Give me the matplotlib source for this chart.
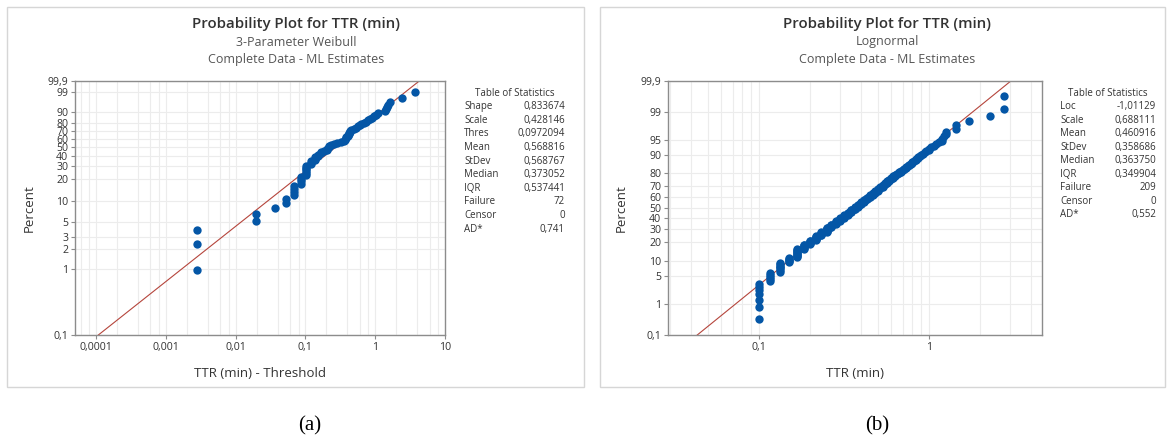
import numpy as np
import matplotlib
matplotlib.use("Agg")
import matplotlib.pyplot as plt
from matplotlib.patches import Rectangle
from matplotlib.ticker import FixedLocator, FixedFormatter, NullLocator
from statistics import NormalDist

plt.rcParams["font.family"] = ["Open Sans", "DejaVu Sans"]

# ---- data: TTR in seconds (plotted in minutes) ----
# (a) 3-parameter Weibull, 72 failures
ttr_a_sec = [6, 6, 6, 7, 7, 8, 9, 9, 10, 10, 10, 10, 11, 11, 11, 11,
             12, 12, 12, 12, 12, 12, 13, 13, 13, 14, 14, 14, 15, 15, 16, 16,
             17, 18, 18, 19, 19, 20, 21, 23, 25, 27, 28, 29, 29, 30, 30, 31,
             31, 32, 32, 33, 36, 38, 40, 42, 44, 47, 50, 53, 56, 60, 64, 68,
             72, 88, 92, 94, 97, 104, 149, 229]
weib_shape, weib_scale, weib_thres = 0.833674, 0.428146, 0.0972094

# (b) Lognormal, 209 failures: distinct seconds and how many times each occurs
ttr_b_sec = [6, 7, 8, 9, 10, 11, 12, 13, 14, 15, 16, 17, 18, 19, 20, 21, 22,
             23, 24, 25, 26, 27, 28, 29, 30, 31, 32, 33, 34, 35, 36, 37, 38,
             39, 40, 41, 42, 43, 44, 45, 46, 47, 48, 49, 50, 52, 53, 54, 55,
             57, 58, 60, 62, 64, 66, 69, 72, 74, 76, 86, 103, 137, 166]
ttr_b_cnt = [7, 5, 7, 5, 9, 6, 6, 7, 6, 8, 6, 6, 6, 6, 5, 6, 5,
             5, 5, 5, 4, 5, 4, 4, 4, 3, 4, 3, 3, 3, 2, 3, 2,
             2, 2, 2, 1, 2, 2, 1, 2, 1, 2, 1, 2, 2, 1, 1, 1,
             1, 1, 2, 1, 1, 1, 1, 2, 1, 2, 2, 1, 1, 2]
logn_loc, logn_scale = -1.01129, 0.688111

stats_a_names = ["Shape", "Scale", "Thres", "Mean", "StDev", "Median", "IQR",
                 "Failure", "Censor", "AD*"]
stats_a_vals = ["0,833674", "0,428146", "0,0972094", "0,568816", "0,568767",
                "0,373052", "0,537441", "72", "0", "0,741"]
stats_b_names = ["Loc", "Scale", "Mean", "StDev", "Median", "IQR",
                 "Failure", "Censor", "AD*"]
stats_b_vals = ["-1,01129", "0,688111", "0,460916", "0,358686", "0,363750",
                "0,349904", "209", "0", "0,552"]

yticks_a = [0.1, 1, 2, 3, 5, 10, 20, 30, 40, 50, 60, 70, 80, 90, 99, 99.9]
yticks_b = [0.1, 1, 5, 10, 20, 30, 40, 50, 60, 70, 80, 90, 95, 99, 99.9]
xticks_a = [0.0001, 0.001, 0.01, 0.1, 1, 10]
xticks_b = [0.1, 1]

BLUE = "#0456a6"
RED = "#b5453c"
GRID = "#ececec"
TXT = "#333333"
W, H = 1169, 446


def fx(px):
    return px / W


def fy(py):
    return 1 - py / H


def comma(v):
    s = ("%g" % v) if v >= 0.001 else "%.4f" % v
    return s.replace(".", ",")


# probability scales
def weib_fwd(p):
    p = np.clip(np.asarray(p, float) / 100, 1e-12, 1 - 1e-12)
    return np.log10(-np.log1p(-p))


def weib_inv(y):
    return 100 * (1 - np.exp(-10 ** np.asarray(y, float)))


_nd = NormalDist()
_ppf = np.vectorize(_nd.inv_cdf, otypes=[float])
_cdf = np.vectorize(_nd.cdf, otypes=[float])


def norm_fwd(p):
    p = np.clip(np.asarray(p, float) / 100, 1e-12, 1 - 1e-12)
    return _ppf(p)


def norm_inv(z):
    return 100 * _cdf(np.asarray(z, float))


def median_ranks(n):
    i = np.arange(1, n + 1)
    return (i - 0.3) / (n + 0.4) * 100


def style_axis(ax, xticks, yticks, xgrid):
    ax.set_ylim(0.1, 99.9)
    ax.yaxis.set_major_locator(FixedLocator(yticks))
    ax.yaxis.set_major_formatter(FixedFormatter([comma(v) for v in yticks]))
    ax.yaxis.set_minor_locator(NullLocator())
    ax.xaxis.set_major_locator(FixedLocator(xticks))
    ax.xaxis.set_major_formatter(FixedFormatter([comma(v) for v in xticks]))
    ax.xaxis.set_minor_locator(NullLocator())
    for v in yticks:
        ax.axhline(v, color=GRID, lw=0.8, zorder=0)
    for v in xgrid:
        ax.axvline(v, color=GRID, lw=0.8, zorder=0)
    for sp in ax.spines.values():
        sp.set_color("#8c8c8c")
        sp.set_linewidth(1.0)
    ax.tick_params(labelsize=7.6, colors=TXT, length=3, width=0.8, pad=2)
    ax.tick_params(axis="both", color="#8c8c8c")
    ax.set_ylabel("Percent", fontsize=9.5, color=TXT)
    ax.yaxis.set_label_coords(-0.107, 0.5)


def stats_table(x_left, x_right, names, vals, y0, dy):
    fig.text(fx((x_left + x_right) / 2), fy(93), "Table of Statistics",
             fontsize=7, color=TXT, ha="center", va="center")
    for k, (n, v) in enumerate(zip(names, vals)):
        y = fy(y0 + k * dy)
        fig.text(fx(x_left), y, n, fontsize=7, color=TXT,
                 ha="left", va="center")
        fig.text(fx(x_right), y, v, fontsize=7, color=TXT,
                 ha="right", va="center")


fig = plt.figure(figsize=(W / 100, H / 100), dpi=100)

# panel frames
fig.patches.append(Rectangle((fx(7), fy(387)), fx(577), 380 / H,
                             transform=fig.transFigure, fill=False,
                             edgecolor="#d6d6d6", lw=1))
fig.patches.append(Rectangle((fx(600), fy(387)), fx(565), 380 / H,
                             transform=fig.transFigure, fill=False,
                             edgecolor="#d6d6d6", lw=1))

ax_bottom, ax_h = fy(335), 254.4 / H

# ---- (a) Weibull ----
ax_a = fig.add_axes([fx(75), ax_bottom, fx(370), ax_h])
ax_a.set_xscale("log")
ax_a.set_yscale("function", functions=(weib_fwd, weib_inv))
ax_a.set_xlim(5e-5, 10)
grid_a = [m * 10.0 ** e for e in range(-5, 1) for m in (1, 2, 4, 6, 8)]
grid_a = [g for g in grid_a if 5e-5 < g < 10]
style_axis(ax_a, xticks_a, yticks_a, grid_a)

xa = np.sort(np.array(ttr_a_sec) / 60.0 - weib_thres)
pa = median_ranks(len(xa))
xfit = np.logspace(np.log10(5e-5), 1, 400)
pfit = 100 * (1 - np.exp(-(xfit / weib_scale) ** weib_shape))
ax_a.plot(xfit, pfit, color=RED, lw=0.8, zorder=2)
ax_a.plot(xa, pa, "o", color=BLUE, ms=6, mec="none", zorder=3)
ax_a.set_xlabel("TTR (min) - Threshold", fontsize=9.5, color=TXT)
ax_a.xaxis.set_label_coords(0.5, -0.126)

# ---- (b) Lognormal ----
ax_b = fig.add_axes([fx(668), ax_bottom, fx(374), ax_h])
ax_b.set_xscale("log")
ax_b.set_yscale("function", functions=(norm_fwd, norm_inv))
ax_b.set_xlim(0.0292, 4.62)
grid_b = [m * 10.0 ** e for e in range(-2, 1) for m in range(1, 10)]
grid_b = [g for g in grid_b if 0.0292 < g < 4.62]
style_axis(ax_b, xticks_b, yticks_b, grid_b)

xb = np.repeat(np.array(ttr_b_sec) / 60.0, ttr_b_cnt)
pb = median_ranks(len(xb))
xfit_b = np.logspace(np.log10(0.0292), np.log10(4.62), 400)
pfit_b = norm_inv((np.log(xfit_b) - logn_loc) / logn_scale)
ax_b.plot(xfit_b, pfit_b, color=RED, lw=0.8, zorder=2)
ax_b.plot(xb, pb, "o", color=BLUE, ms=6, mec="none", zorder=3)
ax_b.set_xlabel("TTR (min)", fontsize=9.5, color=TXT)
ax_b.xaxis.set_label_coords(0.5, -0.126)

# ---- titles ----
for cx, sub in ((296, "3-Parameter Weibull"), (887, "Lognormal")):
    fig.text(fx(cx), fy(24), "Probability Plot for TTR (min)", fontsize=10.8,
             fontweight="semibold", color=TXT, ha="center", va="center")
    fig.text(fx(cx), fy(42), sub, fontsize=9, color="#555555",
             ha="center", va="center")
    fig.text(fx(cx), fy(59), "Complete Data - ML Estimates", fontsize=9,
             color="#555555", ha="center", va="center")

stats_table(464, 565, stats_a_names, stats_a_vals, 106.7, 13.6)
stats_table(1060, 1156, stats_b_names, stats_b_vals, 106.7, 13.5)

fig.text(fx(310), fy(426), "(a)", fontsize=15, family="Liberation Serif",
         ha="center", va="center", color="black")
fig.text(fx(877), fy(426), "(b)", fontsize=15, family="Liberation Serif",
         ha="center", va="center", color="black")

fig.savefig("out.png", dpi=100)
